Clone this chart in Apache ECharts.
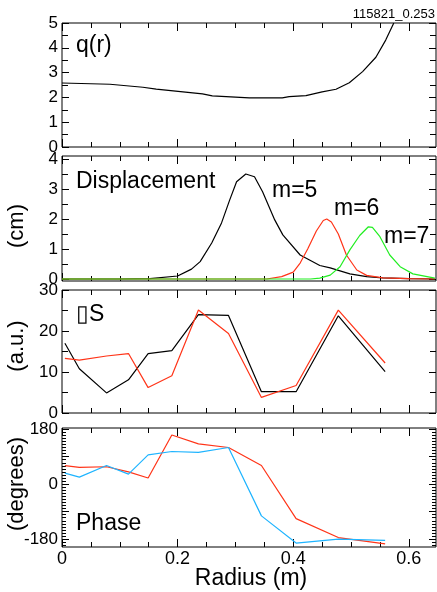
<!DOCTYPE html>
<html>
<head>
<meta charset="utf-8">
<title>Mode profiles</title>
<script src="https://cdn.jsdelivr.net/npm/echarts@6/dist/echarts.min.js"></script>
<style>
  html, body { margin: 0; padding: 0; background: #fff; }
  #chart { width: 437px; height: 592px; }
</style>
</head>
<body>
<div id="chart"></div>
<script>
// q(r) profile
const qRadius = [0, 0.083, 0.14, 0.163, 0.243, 0.26, 0.324, 0.381, 0.393, 0.422, 0.45, 0.474, 0.497, 0.52, 0.543, 0.56, 0.574];
const qValues = [2.58, 2.53, 2.41, 2.33, 2.14, 2.06, 1.98, 1.98, 2.03, 2.07, 2.22, 2.33, 2.59, 3.04, 3.62, 4.31, 5.0];

// displacement (cm) for m=5,6,7
const m5Radius = [0, 0.1, 0.152, 0.2, 0.224, 0.239, 0.259, 0.276, 0.29, 0.302, 0.318, 0.333, 0.347, 0.368, 0.382, 0.412, 0.446, 0.464, 0.498, 0.527, 0.555, 0.6, 0.645];
const m5Values = [0, 0, 0.01, 0.1, 0.33, 0.58, 1.2, 1.87, 2.63, 3.24, 3.5, 3.41, 2.91, 1.97, 1.47, 0.8, 0.45, 0.37, 0.17, 0.08, 0.04, 0.01, 0];
const m6Radius = [0, 0.354, 0.38, 0.4, 0.412, 0.425, 0.44, 0.452, 0.458, 0.466, 0.478, 0.492, 0.51, 0.527, 0.555, 0.6, 0.645];
const m6Values = [0, 0, 0.08, 0.23, 0.53, 1.0, 1.6, 1.95, 2.0, 1.9, 1.5, 0.8, 0.3, 0.12, 0.04, 0.01, 0];
const m7Radius = [0, 0.43, 0.446, 0.464, 0.481, 0.498, 0.515, 0.53, 0.537, 0.55, 0.567, 0.585, 0.607, 0.645];
const m7Values = [0, 0, 0.03, 0.13, 0.41, 0.97, 1.45, 1.74, 1.72, 1.41, 0.8, 0.41, 0.17, 0.03];

// amplitude (a.u.) and phase (degrees), same radial points
const probeRadius = [0.005, 0.03, 0.077, 0.115, 0.149, 0.19, 0.236, 0.288, 0.345, 0.405, 0.478, 0.559];
const ampBlack = [17.0, 10.8, 4.9, 8.1, 14.5, 15.2, 24.0, 23.8, 5.2, 5.2, 23.7, 10.1];
const ampRed = [13.3, 12.9, 13.9, 14.5, 6.2, 9.1, 25.1, 19.4, 3.8, 6.7, 25.1, 12.2];
const phaseRed = [61, 55, 57, 40, 20, 161, 132, 120, 61, -113, -175, -196];
const phaseBlue = [36, 23, 61, 33, 96, 107, 104, 120, -104, -193, -180, -184];

// ticks
const radiusMajor = [0, 0.2, 0.4, 0.6];
const radiusMinor = [0, 0.05, 0.1, 0.15, 0.2, 0.25, 0.3, 0.35, 0.4, 0.45, 0.5, 0.55, 0.6];
const qTicks = [0, 1, 2, 3, 4, 5];
const qMinor = [0.5, 1.5, 2.5, 3.5, 4.5];
const dispTicks = [0, 1, 2, 3, 4];
const dispMinor = [0.5, 1.5, 2.5, 3.5];
const ampTicks = [0, 10, 20, 30];
const ampMinor = [5, 15, 25];
const phaseTicks = [-180, 0, 180];
const phaseMid = [-90, 90];
const phaseMinor = [-200, -190, -170, -160, -150, -140, -130, -120, -110, -100, -80, -70, -60, -50, -40, -30, -20, -10,
  10, 20, 30, 40, 50, 60, 70, 80, 100, 110, 120, 130, 140, 150, 160, 170];

const zip = (xs, ys) => xs.map((x, i) => [x, ys[i]]);

const FONT = 'Liberation Sans, Helvetica, Arial, sans-serif';
const panels = [
  { top: 23, height: 124, min: 0, max: 5, major: qTicks, mid: [], minor: qMinor },
  { top: 156, height: 125, min: -0.067, max: 4.1, major: dispTicks, mid: [], minor: dispMinor },
  { top: 290, height: 123, min: 0, max: 30, major: ampTicks, mid: [], minor: ampMinor },
  { top: 428, height: 119, min: -206, max: 184, major: phaseTicks, mid: phaseMid, minor: phaseMinor }
];

const grids = [], xAxes = [], yAxes = [];

function addAxis(list, gridIndex, position, min, max, ticks, len, labels, labelStyle) {
  list.push({
    type: 'value',
    gridIndex: gridIndex,
    position: position,
    min: min,
    max: max,
    axisLine: { show: false, onZero: false },
    splitLine: { show: false },
    axisTick: { show: true, inside: true, length: len, customValues: ticks, lineStyle: { color: '#000', width: 1 } },
    axisLabel: labels ? Object.assign({ show: true, customValues: labels, color: '#000', fontFamily: FONT }, labelStyle) : { show: false }
  });
  return list.length - 1;
}

const seriesAxes = [];
panels.forEach((p, i) => {
  grids.push({ left: 62, right: 1, top: p.top, height: p.height, show: true, borderColor: '#000', borderWidth: 1, backgroundColor: 'transparent' });
  const last = i === panels.length - 1;
  const xi = addAxis(xAxes, i, 'bottom', 0, 0.647, radiusMajor, 8, last ? radiusMajor : null,
    { fontSize: 18, margin: 3, formatter: v => v === 0 ? '0' : String(v) });
  addAxis(xAxes, i, 'bottom', 0, 0.647, radiusMinor, 5, null);
  addAxis(xAxes, i, 'top', 0, 0.647, radiusMajor, 8, null);
  addAxis(xAxes, i, 'top', 0, 0.647, radiusMinor, 5, null);
  const yi = addAxis(yAxes, i, 'left', p.min, p.max, p.major, 7, p.major, { fontSize: 17, margin: 4 });
  addAxis(yAxes, i, 'left', p.min, p.max, p.minor, i === 3 ? 4 : 6, null);
  addAxis(yAxes, i, 'right', p.min, p.max, p.major, 7, null);
  addAxis(yAxes, i, 'right', p.min, p.max, p.minor, i === 3 ? 4 : 6, null);
  if (p.mid.length) {
    addAxis(yAxes, i, 'left', p.min, p.max, p.mid, 7, null);
    addAxis(yAxes, i, 'right', p.min, p.max, p.mid, 7, null);
  }
  seriesAxes.push([xi, yi]);
});

function line(panel, data, color) {
  return {
    type: 'line',
    xAxisIndex: seriesAxes[panel][0],
    yAxisIndex: seriesAxes[panel][1],
    data: data,
    showSymbol: false,
    silent: true,
    clip: true,
    lineStyle: { color: color, width: 1.2 },
    animation: false
  };
}

const RED = '#ff3418';
const GREEN = '#22ee22';
const BLUE = '#1eb4ff';

function label(text, x, y, size) {
  return {
    type: 'text', x: x, y: y,
    style: { text: text, fill: '#000', font: size + 'px ' + FONT, textAlign: 'left', textVerticalAlign: 'middle' }
  };
}

function vlabel(text, x, y) {
  return {
    type: 'text', x: x, y: y, rotation: Math.PI / 2,
    style: { text: text, fill: '#000', font: '22px ' + FONT, textAlign: 'center', textVerticalAlign: 'middle' }
  };
}

const chart = echarts.init(document.getElementById('chart'));
chart.setOption({
  animation: false,
  grid: grids,
  xAxis: xAxes,
  yAxis: yAxes,
  series: [
    line(0, zip(qRadius, qValues), '#000'),
    line(1, zip(m5Radius, m5Values), '#000'),
    line(1, zip(m6Radius, m6Values), RED),
    line(1, zip(m7Radius, m7Values), GREEN),
    line(2, zip(probeRadius, ampBlack), '#000'),
    line(2, zip(probeRadius, ampRed), RED),
    line(3, zip(probeRadius, phaseRed), RED),
    line(3, zip(probeRadius, phaseBlue), BLUE)
  ],
  graphic: [
    { type: 'text', right: 2, top: 8, style: { text: '115821_0.253', fill: '#000', font: '13px ' + FONT } },
    label('q(r)', 76, 46, 23),
    label('Displacement', 76, 182, 23),
    label('m=5', 272, 191, 23),
    label('m=6', 334, 209, 23),
    label('m=7', 384, 237, 23),
    label('\u25AFS', 76, 315, 23),
    label('Phase', 76, 524, 23),
    { type: 'text', x: 251, y: 579, style: { text: 'Radius (m)', fill: '#000', font: '23px ' + FONT, textAlign: 'center', textVerticalAlign: 'middle' } },
    vlabel('(cm)', 17, 226),
    vlabel('(a.u.)', 17, 346),
    vlabel('(degrees)', 17, 484)
  ]
});
</script>
</body>
</html>
